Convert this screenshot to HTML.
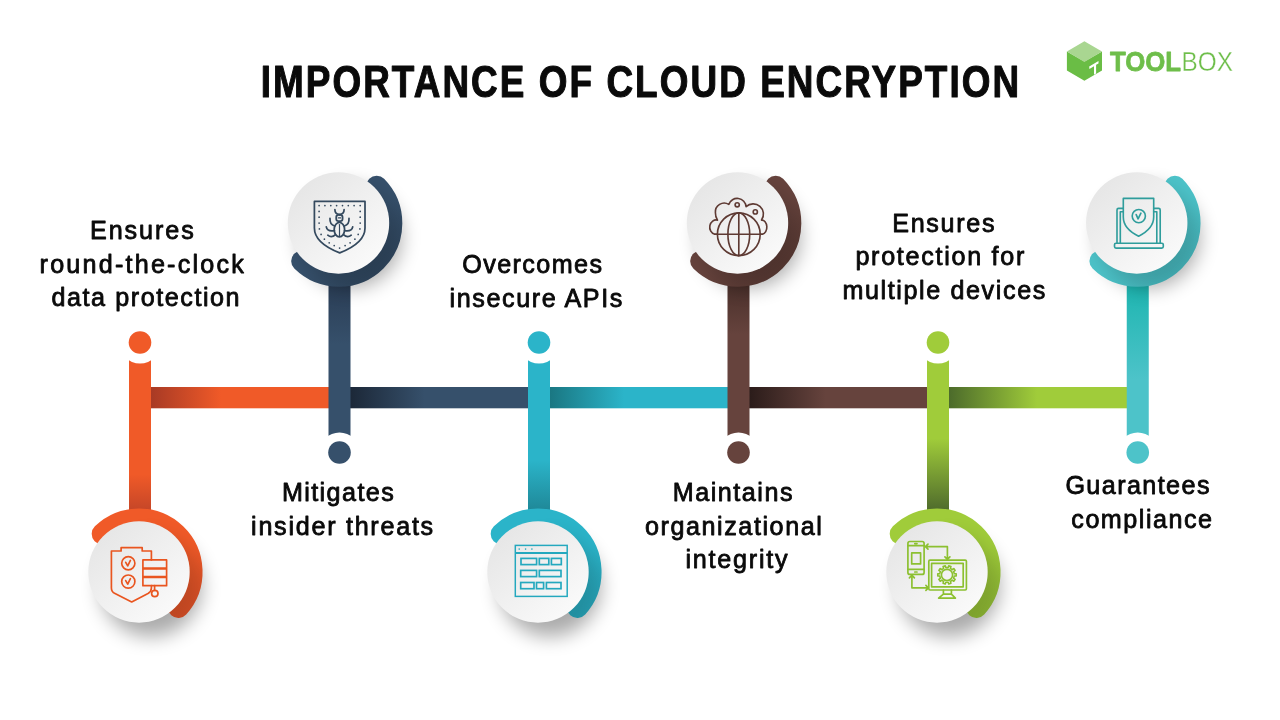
<!DOCTYPE html>
<html><head><meta charset="utf-8"><title>Importance of Cloud Encryption</title>
<style>
html,body{margin:0;padding:0;background:#fff;width:1280px;height:720px;overflow:hidden}
svg{display:block}
text{font-family:"Liberation Sans",sans-serif;font-size:26.5px;fill:#0a0a0a;stroke:#0a0a0a;stroke-width:0.85px;stroke-linejoin:round}
</style></head><body>
<svg width="1280" height="720" viewBox="0 0 1280 720">
<defs>
<linearGradient id="h0" gradientUnits="userSpaceOnUse" x1="151.0" y1="0" x2="221.0" y2="0"><stop offset="0" stop-color="#A83A25"/><stop offset="1" stop-color="#F05A28"/></linearGradient>
<linearGradient id="h1" gradientUnits="userSpaceOnUse" x1="350.5" y1="0" x2="424.5" y2="0"><stop offset="0" stop-color="#1C2838"/><stop offset="1" stop-color="#36506B"/></linearGradient>
<linearGradient id="h2" gradientUnits="userSpaceOnUse" x1="550.0" y1="0" x2="624.0" y2="0"><stop offset="0" stop-color="#1A7782"/><stop offset="1" stop-color="#2BB4C9"/></linearGradient>
<linearGradient id="h3" gradientUnits="userSpaceOnUse" x1="749.5" y1="0" x2="825.5" y2="0"><stop offset="0" stop-color="#2B1C1A"/><stop offset="1" stop-color="#66433D"/></linearGradient>
<linearGradient id="h4" gradientUnits="userSpaceOnUse" x1="949.0" y1="0" x2="1037.0" y2="0"><stop offset="0" stop-color="#4C6B2B"/><stop offset="1" stop-color="#A0CC3A"/></linearGradient>
<linearGradient id="wg" x1="0.15" y1="0.1" x2="0.85" y2="0.9"><stop offset="0" stop-color="#E6E6E6"/><stop offset="1" stop-color="#FAFAFA"/></linearGradient>
<filter id="sh" x="-50%" y="-50%" width="200%" height="200%"><feGaussianBlur stdDeviation="9.5"/></filter>
<filter id="sh2" x="-50%" y="-50%" width="200%" height="200%"><feGaussianBlur stdDeviation="4"/></filter>
<linearGradient id="v0" gradientUnits="userSpaceOnUse" x1="0" y1="510.5" x2="0" y2="474.5"><stop offset="0" stop-color="#C54628"/><stop offset="1" stop-color="#F05A28"/></linearGradient>
<linearGradient id="r0" gradientUnits="userSpaceOnUse" x1="109" y1="532" x2="189" y2="622"><stop offset="0.55" stop-color="#F05A28"/><stop offset="1" stop-color="#DC5128"/></linearGradient>
<mask id="m0" maskUnits="userSpaceOnUse" x="49" y="482" width="180" height="180"><path d="M102.18 533.87A53 53 0 0 1 178.39 607.46" fill="none" stroke="#fff" stroke-width="21" stroke-linecap="round"/></mask>
<linearGradient id="v1" gradientUnits="userSpaceOnUse" x1="0" y1="284.5" x2="0" y2="344.5"><stop offset="0" stop-color="#2A3D55"/><stop offset="1" stop-color="#36506B"/></linearGradient>
<linearGradient id="r1" gradientUnits="userSpaceOnUse" x1="308.5" y1="183" x2="388.5" y2="273"><stop offset="0.55" stop-color="#36506B"/><stop offset="1" stop-color="#30475F"/></linearGradient>
<mask id="m1" maskUnits="userSpaceOnUse" x="248.5" y="133" width="180" height="180"><path d="M376.63 186.18A53 53 0 0 1 301.68 261.13" fill="none" stroke="#fff" stroke-width="21" stroke-linecap="round"/></mask>
<linearGradient id="v2" gradientUnits="userSpaceOnUse" x1="0" y1="510.5" x2="0" y2="460.5"><stop offset="0" stop-color="#1F8898"/><stop offset="1" stop-color="#2BB4C9"/></linearGradient>
<linearGradient id="r2" gradientUnits="userSpaceOnUse" x1="508" y1="532" x2="588" y2="622"><stop offset="0.55" stop-color="#2BB4C9"/><stop offset="1" stop-color="#28A5B9"/></linearGradient>
<mask id="m2" maskUnits="userSpaceOnUse" x="448" y="482" width="180" height="180"><path d="M501.18 533.87A53 53 0 0 1 577.39 607.46" fill="none" stroke="#fff" stroke-width="21" stroke-linecap="round"/></mask>
<linearGradient id="v3" gradientUnits="userSpaceOnUse" x1="0" y1="284.5" x2="0" y2="334.5"><stop offset="0" stop-color="#4A302B"/><stop offset="1" stop-color="#66433D"/></linearGradient>
<linearGradient id="r3" gradientUnits="userSpaceOnUse" x1="707.5" y1="183" x2="787.5" y2="273"><stop offset="0.55" stop-color="#66433D"/><stop offset="1" stop-color="#5A3A34"/></linearGradient>
<mask id="m3" maskUnits="userSpaceOnUse" x="647.5" y="133" width="180" height="180"><path d="M775.63 186.18A53 53 0 0 1 700.68 261.13" fill="none" stroke="#fff" stroke-width="21" stroke-linecap="round"/></mask>
<linearGradient id="v4" gradientUnits="userSpaceOnUse" x1="0" y1="510.5" x2="0" y2="438.5"><stop offset="0" stop-color="#4F6B2C"/><stop offset="1" stop-color="#A0CC3A"/></linearGradient>
<linearGradient id="r4" gradientUnits="userSpaceOnUse" x1="907" y1="532" x2="987" y2="622"><stop offset="0.55" stop-color="#A0CC3A"/><stop offset="1" stop-color="#90BB35"/></linearGradient>
<mask id="m4" maskUnits="userSpaceOnUse" x="847" y="482" width="180" height="180"><path d="M900.18 533.87A53 53 0 0 1 976.39 607.46" fill="none" stroke="#fff" stroke-width="21" stroke-linecap="round"/></mask>
<linearGradient id="v5" gradientUnits="userSpaceOnUse" x1="0" y1="284.5" x2="0" y2="379.5"><stop offset="0" stop-color="#1DB5B0"/><stop offset="1" stop-color="#4DC3C9"/></linearGradient>
<linearGradient id="r5" gradientUnits="userSpaceOnUse" x1="1106.75" y1="183" x2="1186.75" y2="273"><stop offset="0.55" stop-color="#4DC3C9"/><stop offset="1" stop-color="#46B8BE"/></linearGradient>
<mask id="m5" maskUnits="userSpaceOnUse" x="1046.75" y="133" width="180" height="180"><path d="M1174.88 186.18A53 53 0 0 1 1099.93 261.13" fill="none" stroke="#fff" stroke-width="21" stroke-linecap="round"/></mask>
</defs>
<rect x="150.0" y="387" width="179.5" height="21.30000000000001" fill="url(#h0)"/>
<rect x="349.5" y="387" width="179.5" height="21.30000000000001" fill="url(#h1)"/>
<rect x="549.0" y="387" width="179.5" height="21.30000000000001" fill="url(#h2)"/>
<rect x="748.5" y="387" width="179.5" height="21.30000000000001" fill="url(#h3)"/>
<rect x="948.0" y="387" width="179.75" height="21.30000000000001" fill="url(#h4)"/>
<rect x="129.0" y="342.5" width="22" height="168.0" fill="url(#v0)"/>
<circle cx="140" cy="342.5" r="21" fill="#fff"/>
<circle cx="140" cy="342.5" r="11.3" fill="#F05A28"/>
<circle cx="151" cy="586" r="50.7" fill="#000" filter="url(#sh)" opacity="0.33"/>
<path d="M102.18 533.87A53 53 0 0 1 178.39 607.46" fill="none" stroke="url(#r0)" stroke-width="21" stroke-linecap="round"/>
<circle cx="151" cy="586" r="50.7" fill="#000" filter="url(#sh)" opacity="0.16" mask="url(#m0)"/>
<circle cx="139" cy="572" r="50.7" fill="url(#wg)"/>
<rect x="328.5" y="284.5" width="22" height="168.0" fill="url(#v1)"/>
<circle cx="339.5" cy="452.5" r="20" fill="#fff"/>
<circle cx="339.5" cy="452.5" r="11.3" fill="#36506B"/>
<circle cx="350.5" cy="237" r="50.7" fill="#000" filter="url(#sh)" opacity="0.33"/>
<path d="M376.63 186.18A53 53 0 0 1 301.68 261.13" fill="none" stroke="url(#r1)" stroke-width="21" stroke-linecap="round"/>
<circle cx="350.5" cy="237" r="50.7" fill="#000" filter="url(#sh)" opacity="0.16" mask="url(#m1)"/>
<circle cx="338.5" cy="223" r="50.7" fill="url(#wg)"/>
<rect x="528.0" y="342.5" width="22" height="168.0" fill="url(#v2)"/>
<circle cx="539" cy="342.5" r="21" fill="#fff"/>
<circle cx="539" cy="342.5" r="11.3" fill="#2BB4C9"/>
<circle cx="550" cy="586" r="50.7" fill="#000" filter="url(#sh)" opacity="0.33"/>
<path d="M501.18 533.87A53 53 0 0 1 577.39 607.46" fill="none" stroke="url(#r2)" stroke-width="21" stroke-linecap="round"/>
<circle cx="550" cy="586" r="50.7" fill="#000" filter="url(#sh)" opacity="0.16" mask="url(#m2)"/>
<circle cx="538" cy="572" r="50.7" fill="url(#wg)"/>
<rect x="727.5" y="284.5" width="22" height="168.0" fill="url(#v3)"/>
<circle cx="738.5" cy="452.5" r="20" fill="#fff"/>
<circle cx="738.5" cy="452.5" r="11.3" fill="#66433D"/>
<circle cx="749.5" cy="237" r="50.7" fill="#000" filter="url(#sh)" opacity="0.33"/>
<path d="M775.63 186.18A53 53 0 0 1 700.68 261.13" fill="none" stroke="url(#r3)" stroke-width="21" stroke-linecap="round"/>
<circle cx="749.5" cy="237" r="50.7" fill="#000" filter="url(#sh)" opacity="0.16" mask="url(#m3)"/>
<circle cx="737.5" cy="223" r="50.7" fill="url(#wg)"/>
<rect x="927.0" y="342.5" width="22" height="168.0" fill="url(#v4)"/>
<circle cx="938" cy="342.5" r="21" fill="#fff"/>
<circle cx="938" cy="342.5" r="11.3" fill="#A0CC3A"/>
<circle cx="949" cy="586" r="50.7" fill="#000" filter="url(#sh)" opacity="0.33"/>
<path d="M900.18 533.87A53 53 0 0 1 976.39 607.46" fill="none" stroke="url(#r4)" stroke-width="21" stroke-linecap="round"/>
<circle cx="949" cy="586" r="50.7" fill="#000" filter="url(#sh)" opacity="0.16" mask="url(#m4)"/>
<circle cx="937" cy="572" r="50.7" fill="url(#wg)"/>
<rect x="1126.75" y="284.5" width="22" height="168.0" fill="url(#v5)"/>
<circle cx="1137.75" cy="452.5" r="20" fill="#fff"/>
<circle cx="1137.75" cy="452.5" r="11.3" fill="#4DC3C9"/>
<circle cx="1148.75" cy="237" r="50.7" fill="#000" filter="url(#sh)" opacity="0.33"/>
<path d="M1174.88 186.18A53 53 0 0 1 1099.93 261.13" fill="none" stroke="url(#r5)" stroke-width="21" stroke-linecap="round"/>
<circle cx="1148.75" cy="237" r="50.7" fill="#000" filter="url(#sh)" opacity="0.16" mask="url(#m5)"/>
<circle cx="1136.75" cy="223" r="50.7" fill="url(#wg)"/>
<g opacity="0.999">
<text transform="translate(90.00 238.90) scale(0.95 1)" textLength="109.26" lengthAdjust="spacing">Ensures</text>
<text transform="translate(39.60 273.10) scale(0.95 1)" textLength="214.95" lengthAdjust="spacing">round-the-clock</text>
<text transform="translate(51.50 306.30) scale(0.95 1)" textLength="198.00" lengthAdjust="spacing">data protection</text>
<text transform="translate(281.90 501.05) scale(0.95 1)" textLength="117.74" lengthAdjust="spacing">Mitigates</text>
<text transform="translate(251.10 534.50) scale(0.95 1)" textLength="191.68" lengthAdjust="spacing">insider threats</text>
<text transform="translate(462.20 273.10) scale(0.95 1)" textLength="147.26" lengthAdjust="spacing">Overcomes</text>
<text transform="translate(449.50 306.70) scale(0.95 1)" textLength="182.00" lengthAdjust="spacing">insecure APIs</text>
<text transform="translate(672.70 501.30) scale(0.95 1)" textLength="126.21" lengthAdjust="spacing">Maintains</text>
<text transform="translate(644.90 534.60) scale(0.95 1)" textLength="186.32" lengthAdjust="spacing">organizational</text>
<text transform="translate(685.40 568.20) scale(0.95 1)" textLength="107.68" lengthAdjust="spacing">integrity</text>
<text transform="translate(892.20 232.10) scale(0.95 1)" textLength="107.79" lengthAdjust="spacing">Ensures</text>
<text transform="translate(855.40 265.40) scale(0.95 1)" textLength="177.89" lengthAdjust="spacing">protection for</text>
<text transform="translate(842.50 299.20) scale(0.95 1)" textLength="213.47" lengthAdjust="spacing">multiple devices</text>
<text transform="translate(1065.40 494.20) scale(0.95 1)" textLength="151.68" lengthAdjust="spacing">Guarantees</text>
<text transform="translate(1071.30 527.80) scale(0.95 1)" textLength="148.21" lengthAdjust="spacing">compliance</text>
<text transform="translate(639.9 96.5) scale(0.82 1)" text-anchor="middle" textLength="925.0" lengthAdjust="spacing" style="font-weight:bold;font-size:45px;stroke-width:1.1px">IMPORTANCE OF CLOUD ENCRYPTION</text>
</g>
<g transform="translate(0 0.5)" fill="none" stroke="#E9551F" stroke-width="1.68" stroke-linejoin="round" stroke-linecap="round">
<path d="M151.4 559.4V550.5H142.2V547.2H121.1V550.5H111.4V587.5Q111.4 591.5 115 593L131.7 601.4L148 593Q151.4 591 151.4 587.5V585.2"/>
<circle cx="128.3" cy="562.8" r="6.6"/><circle cx="128.3" cy="581.1" r="6.6"/>
<path d="M125.7 561.8L127.7 565.4L130.4 559.9M125.7 580.1L127.7 583.7L130.4 578.2" stroke-width="1.68"/>
<rect x="142.9" y="559.4" width="23.7" height="25.8"/>
<path d="M142.9 567.9H166.6M142.9 576.6H166.6" stroke-width="2.48" stroke-linecap="butt"/>
<path d="M154.6 585.2V589.8"/><circle cx="154.8" cy="593" r="3.2"/>
</g>
<g fill="none" stroke="#34495E" stroke-width="1.73" stroke-linejoin="round" stroke-linecap="round">
<path d="M314.4 201.4H365V228C365 241 351 248.5 339.7 252.9C328.4 248.5 314.4 241 314.4 228Z"/>
<g fill="#34495E" stroke="none"><circle cx="319.1" cy="205.6" r="0.85"/><circle cx="360.2" cy="205.6" r="0.85"/><circle cx="319.1" cy="211.4" r="0.85"/><circle cx="360.2" cy="211.4" r="0.85"/><circle cx="319.1" cy="217.2" r="0.85"/><circle cx="360.2" cy="217.2" r="0.85"/><circle cx="319.1" cy="223.1" r="0.85"/><circle cx="360.2" cy="223.1" r="0.85"/><circle cx="319.4" cy="228.9" r="0.85"/><circle cx="359.9" cy="228.9" r="0.85"/><circle cx="321.1" cy="234.4" r="0.85"/><circle cx="358.2" cy="234.4" r="0.85"/><circle cx="324.4" cy="239.2" r="0.85"/><circle cx="354.9" cy="239.2" r="0.85"/><circle cx="329.2" cy="242.8" r="0.85"/><circle cx="350.1" cy="242.8" r="0.85"/><circle cx="334.2" cy="245.6" r="0.85"/><circle cx="345.1" cy="245.6" r="0.85"/><circle cx="339.6" cy="248.1" r="0.85"/><circle cx="324.9" cy="205.6" r="0.85"/><circle cx="330.8" cy="205.6" r="0.85"/><circle cx="336.6" cy="205.6" r="0.85"/><circle cx="342.5" cy="205.6" r="0.85"/><circle cx="348.3" cy="205.6" r="0.85"/><circle cx="354.1" cy="205.6" r="0.85"/></g>
<ellipse cx="339.4" cy="229.6" rx="5.2" ry="7.3"/>
<path d="M339.5 224.5V236.5" stroke-width="1.18"/>
<rect x="336.2" y="214.9" width="6.4" height="6.2" rx="2.4"/>
<path d="M338.3 217.9H340.7" stroke-width="1.38"/>
<path d="M339.5 214.6V215"/>
<path d="M334.9 209.6Q334.9 214.4 339.5 214.4Q344.1 214.4 344.1 209.6"/>
<path d="M334.6 226Q329.6 224.5 330 218.4M334.4 230.6Q327.2 231.8 326.3 226.8M335.5 234.6Q331.5 238.3 327.8 235.2"/>
<path d="M344.4 226Q349.4 224.5 349 218.4M344.6 230.6Q351.8 231.8 352.7 226.8M343.5 234.6Q347.5 238.3 351.2 235.2"/>
</g>
<g fill="none" stroke="#24A8BE" stroke-width="1.48" stroke-linejoin="miter">
<rect x="515.3" y="545.4" width="51.9" height="51"/>
<path d="M515.3 552.9H567.2" stroke-width="1.98"/>
<g fill="#24A8BE" stroke="none"><circle cx="519.2" cy="549.1" r="0.8"/><circle cx="525.6" cy="549.1" r="0.8"/><circle cx="531.9" cy="549.1" r="0.8"/></g>
<g stroke-width="1.68">
<rect x="521" y="558.4" width="15.6" height="6.2"/><rect x="539.3" y="558.4" width="9.5" height="6.2"/><rect x="551.4" y="558.4" width="9.9" height="6.2"/>
<rect x="520.7" y="570.4" width="15.9" height="6.2"/><rect x="539.3" y="570.4" width="21.7" height="6.2"/>
<rect x="520.7" y="582.5" width="13.3" height="6.2"/><rect x="536.5" y="582.5" width="7.1" height="6.2"/><rect x="546.4" y="582.5" width="14.6" height="6.2"/>
</g></g>
<g fill="none" stroke="#5E3A33" stroke-width="1.63" stroke-linejoin="round" stroke-linecap="round">
<circle cx="738.8" cy="234.25" r="21.4"/>
<ellipse cx="738.8" cy="234.25" rx="10.9" ry="21.4"/>
<path d="M738.8 212.9V255.6M714.8 234.25H762.4"/>
<path d="M717.4 234.25H714.8A6.4 7.2 0 0 1 717.5 220.1C716.2 218 715.3 215.5 715.4 212.6A8.8 8.8 0 0 1 728.8 204.4A8.9 8.9 0 0 1 746.1 206.7A10.25 10.25 0 0 1 761.5 220.1A4.9 7.1 0 0 1 762.4 234.25H760.2"/>
<circle cx="737.2" cy="204.8" r="2.1"/><circle cx="755.3" cy="211.9" r="2.1"/>
</g>
<g fill="none" stroke="#8CC030" stroke-width="1.68" stroke-linejoin="round" stroke-linecap="round">
<rect x="907.9" y="541.5" width="16.2" height="32.9" rx="2"/>
<path d="M907.9 545.7H924.1M907.9 569.4H924.1M914.8 543.6H917M914.8 572H917"/>
<rect x="911.7" y="552.9" width="8.9" height="11"/>
<rect x="928.8" y="560.1" width="37.6" height="29.9" rx="1.2"/>
<rect x="931.6" y="563.3" width="31.6" height="23.5"/>
<path d="M943.4 590V594.2M951.4 590V594.2M943.4 594.2H951.4L955.4 598.1H938.6Z"/>
<path d="M925.4 546.7H947.4V559.2M928 544.2L925.4 546.7L928 549.2M944.9 556.8L947.4 559.3L949.9 556.8"/>
<path d="M911.9 575.2V587.8H928.4M909.4 577.8L911.9 575.2L914.4 577.8M925.9 585.3L928.4 587.8L925.9 590.3"/>
<circle cx="947" cy="574.9" r="5.6"/>
<path d="M948.16 567.59L948.74 565.76L950.96 566.49L950.36 568.31L952.23 569.67L953.78 568.53L955.15 570.42L953.59 571.54L954.31 573.74L956.23 573.73L956.23 576.07L954.31 576.06L953.59 578.26L955.15 579.38L953.78 581.27L952.23 580.13L950.36 581.49L950.96 583.31L948.74 584.04L948.16 582.21L945.84 582.21L945.26 584.04L943.04 583.31L943.64 581.49L941.77 580.13L940.22 581.27L938.85 579.38L940.41 578.26L939.69 576.06L937.77 576.07L937.77 573.73L939.69 573.74L940.41 571.54L938.85 570.42L940.22 568.53L941.77 569.67L943.64 568.31L943.04 566.49L945.26 565.76L945.84 567.59Z" stroke-width="1.58"/>
</g>
<g fill="none" stroke="#2F9D9C" stroke-width="1.63" stroke-linejoin="round" stroke-linecap="round">
<path d="M1123.3 208.4H1118.5Q1117 208.4 1117 210V243.3M1153.7 208.4H1158.6Q1160.2 208.4 1160.2 210V243.3"/>
<path d="M1123.3 211.8H1120.3V243.3M1153.7 211.8H1156.8V243.3"/>
<rect x="1114.5" y="243.3" width="48.8" height="4.8" rx="1.5"/>
<path d="M1123.3 198.4H1153.7V217C1153.7 227 1146 232.5 1138.6 236.2C1131 232.5 1123.3 227 1123.3 217Z"/>
<circle cx="1138.8" cy="216.1" r="6.6"/>
<path d="M1136.2 214.6L1138.1 218.8L1140.9 213.2" stroke-width="1.68"/>
</g>
<g opacity="0.999">
<path d="M1066.9 51.6L1084.4 61.5L1102 51.6V70.4L1084.4 80.8L1066.9 70.4Z" fill="#6ABD45"/>
<path d="M1084.4 41.2L1102 51.6L1084.4 62L1066.9 51.6Z" fill="#A9D691"/>
<path d="M1089.2 66.6L1098.5 61.1V63.4L1096.1 64.8V73.5L1094 74.75V66.2L1089.4 68.9Z" fill="#fff"/>
<text x="1110" y="71" textLength="71" lengthAdjust="spacingAndGlyphs" style="font-weight:bold;font-size:28px;fill:#6EBE4A;stroke:#6EBE4A;stroke-width:0.8px">TOOL</text>
<text x="1181.6" y="71" textLength="51.4" lengthAdjust="spacingAndGlyphs" style="font-size:28px;fill:#6EBE4A;stroke:#fff;stroke-width:0.35px">BOX</text>
</g>
</svg>
</body></html>
